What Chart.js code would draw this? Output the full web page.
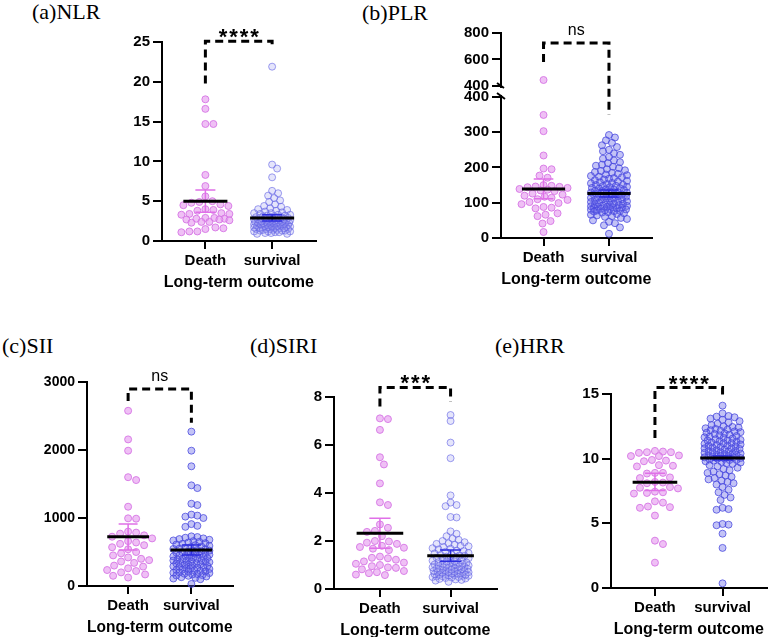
<!DOCTYPE html>
<html>
<head>
<meta charset="utf-8">
<script src="https://cdn.jsdelivr.net/npm/chart.js@4.4.1/dist/chart.umd.min.js"></script>
<style>
  body { margin: 0; background: #fff; width: 772px; height: 637px; position: relative; overflow: hidden; }
  .panel-title { position: absolute; font-family: "Liberation Serif", "Times New Roman", serif; font-size: 22px; line-height: 22px; color: #000; white-space: nowrap; }
  canvas { position: absolute; }
</style>
</head>
<body>
<div class="panel-title" style="left:32px;top:1px">(a)NLR</div>
<div class="panel-title" style="left:362px;top:2px">(b)PLR</div>
<div class="panel-title" style="left:2px;top:335px">(c)SII</div>
<div class="panel-title" style="left:250px;top:335px">(d)SIRI</div>
<div class="panel-title" style="left:495px;top:335px">(e)HRR</div>
<canvas id="chartA"></canvas>
<canvas id="chartB"></canvas>
<canvas id="chartC"></canvas>
<canvas id="chartD"></canvas>
<canvas id="chartE"></canvas>
<script>
// ---- data ----
const CATEGORIES = ['Death', 'survival'];
const X_TITLE = 'Long-term outcome';

const NLR_TICKS = [0, 5, 10, 15, 20, 25];
const NLR_DEATH = [17.8, 16.6, 14.7, 14.7, 8.3, 6.9, 5.6, 5.0, 4.9, 4.8, 4.6, 4.5, 4.4, 4.0, 3.9, 3.8, 3.5, 3.4,
  3.4, 3.3, 2.9, 2.9, 2.8, 2.8, 2.7, 2.7, 2.6, 2.4, 2.4, 2.3, 1.7, 1.6, 1.5, 1.2, 1.2, 1.1];
const NLR_SURV = [21.9, 9.6, 9.1, 8.0, 6.3, 6.0, 5.7, 5.4, 5.1, 4.9, 4.6, 4.4, 4.3, 4.1, 4.0, 3.9, 3.8, 3.7, 3.6,
  3.5, 3.5, 3.4, 3.3, 3.3, 3.2, 3.2, 3.1, 3.1, 3.0, 3.0, 3.0, 2.9, 2.9, 2.9, 2.8, 2.8, 2.8, 2.7, 2.7, 2.7, 2.6,
  2.6, 2.6, 2.5, 2.5, 2.5, 2.5, 2.4, 2.4, 2.4, 2.3, 2.3, 2.3, 2.3, 2.2, 2.2, 2.2, 2.1, 2.1, 2.1, 2.1, 2.0, 2.0,
  2.0, 2.0, 1.9, 1.9, 1.9, 1.9, 1.8, 1.8, 1.8, 1.8, 1.7, 1.7, 1.7, 1.7, 1.6, 1.6, 1.6, 1.6, 1.5, 1.5, 1.5, 1.5,
  1.4, 1.4, 1.4, 1.3, 1.3, 1.3, 1.2, 1.2, 1.2, 1.1, 1.1, 1.0, 1.0, 0.9, 0.9];
const NLR_MEAN = [5.0, 2.9];
const NLR_ERR = [[3.6, 6.4], [2.5, 3.3]];

const PLR_TICKS = [0, 100, 200, 300, 400, 400.001, 600, 800];
const PLR_DEATH = [445, 349, 303, 234, 197, 195, 177, 171, 150, 148, 146, 145, 144, 142, 139, 137, 135, 133, 126,
  123, 120, 117, 114, 110, 108, 102, 99, 96, 88, 86, 84, 70, 66, 62, 48, 41, 17];
const PLR_SURV = [292, 285, 277, 270, 263, 258, 250, 246, 240, 236, 230, 225, 220, 215, 212, 208, 205, 202, 198,
  195, 192, 190, 187, 185, 182, 180, 178, 176, 174, 172, 170, 168, 166, 164, 162, 160, 158, 156, 155, 153, 151,
  150, 148, 147, 145, 144, 142, 141, 140, 138, 137, 136, 134, 133, 132, 130, 129, 128, 127, 125, 124, 123, 122,
  120, 119, 118, 117, 115, 114, 113, 112, 110, 109, 108, 106, 105, 104, 102, 101, 100, 98, 97, 96, 95, 93, 92,
  91, 90, 89, 88, 87, 86, 85, 84, 83, 82, 81, 80, 79, 78, 77, 76, 75, 73, 72, 70, 68, 66, 64, 62, 60, 57, 54,
  50, 46, 42, 36, 30, 12];
const PLR_MEAN = [139, 126];
const PLR_ERR = [[111, 167], [116, 136]];

const SII_TICKS = [0, 1000, 2000, 3000];
const SII_DEATH = [2577, 2156, 1990, 1600, 1558, 1166, 995, 990, 800, 785, 770, 745, 725, 700, 660, 640, 620, 600,
  570, 540, 500, 480, 450, 420, 400, 380, 360, 340, 300, 285, 260, 235, 220, 200, 170, 150, 125];
const SII_SURV = [2270, 1990, 1760, 1480, 1440, 1210, 1190, 1050, 1035, 1020, 1000, 910, 885, 870, 730, 720, 710,
  700, 690, 680, 670, 660, 650, 640, 630, 620, 610, 600, 590, 580, 570, 560, 550, 545, 540, 530, 520, 515, 510,
  500, 495, 490, 480, 475, 470, 460, 455, 450, 440, 435, 430, 420, 415, 410, 400, 395, 390, 380, 375, 370, 360,
  355, 350, 340, 335, 330, 320, 315, 310, 300, 295, 290, 280, 275, 270, 260, 255, 250, 240, 235, 230, 220, 215,
  210, 200, 195, 190, 180, 175, 170, 160, 155, 150, 140, 130, 120, 110, 100, 30];
const SII_MEAN = [725, 529];
const SII_ERR = [[529, 911], [455, 603]];

const SIRI_TICKS = [0, 2, 4, 6, 8];
const SIRI_DEATH = [7.11, 7.08, 6.63, 5.49, 5.19, 4.40, 3.61, 3.50, 2.69, 2.55, 2.42, 2.38, 2.20, 2.00, 1.98, 1.93,
  1.88, 1.80, 1.75, 1.72, 1.68, 1.62, 1.35, 1.30, 1.28, 1.22, 1.15, 1.10, 1.05, 1.00, 0.95, 0.90, 0.88, 0.82,
  0.75, 0.70, 0.66, 0.60, 0.58];
const SIRI_SURV = [7.25, 7.0, 6.1, 5.45, 3.9, 3.6, 3.5, 3.45, 3.0, 2.98, 2.4, 2.3, 2.2, 2.1, 2.05, 2.0, 1.95, 1.9,
  1.88, 1.85, 1.8, 1.78, 1.75, 1.7, 1.68, 1.65, 1.6, 1.58, 1.55, 1.5, 1.48, 1.45, 1.42, 1.4, 1.38, 1.35, 1.32,
  1.3, 1.28, 1.25, 1.22, 1.2, 1.18, 1.15, 1.12, 1.1, 1.08, 1.05, 1.02, 1.0, 0.98, 0.96, 0.94, 0.92, 0.9, 0.88,
  0.86, 0.84, 0.82, 0.8, 0.78, 0.76, 0.74, 0.72, 0.7, 0.68, 0.66, 0.64, 0.62, 0.6, 0.58, 0.56, 0.55, 0.53, 0.52,
  0.5, 0.48, 0.46, 0.44, 0.42, 0.4, 0.38, 0.35, 0.3, 0.5, 0.55, 0.6, 0.62, 0.65, 0.7, 0.72, 0.75, 0.8, 0.85,
  0.9, 0.95, 1.0, 1.05, 1.1, 1.15];
const SIRI_MEAN = [2.32, 1.39];
const SIRI_ERR = [[1.70, 2.95], [1.16, 1.62]];

const HRR_TICKS = [0, 5, 10, 15];
const HRR_DEATH = [10.6, 10.55, 10.5, 10.5, 10.45, 10.25, 10.2, 10.2, 9.9, 9.85, 9.8, 9.5, 9.45, 9.4, 8.9, 8.9,
  8.85, 8.55, 8.5, 8.2, 8.15, 8.1, 7.8, 7.75, 7.7, 7.45, 7.4, 7.35, 7.3, 6.7, 6.6, 6.3, 6.25, 6.2, 5.6, 3.66,
  3.4, 1.96];
const HRR_SURV = [14.1, 13.5, 13.3, 13.25, 13.2, 13.1, 13.0, 12.9, 12.8, 12.7, 12.6, 12.5, 12.45, 12.4, 12.35,
  12.3, 12.25, 12.2, 12.15, 12.1, 12.05, 12.0, 11.95, 11.9, 11.85, 11.8, 11.75, 11.7, 11.65, 11.6, 11.55, 11.5,
  11.45, 11.4, 11.35, 11.3, 11.25, 11.2, 11.15, 11.1, 11.05, 11.0, 10.95, 10.9, 10.85, 10.8, 10.75, 10.7, 10.65,
  10.6, 10.55, 10.5, 10.45, 10.4, 10.35, 10.3, 10.25, 10.2, 10.15, 10.1, 10.05, 10.0, 9.95, 9.9, 9.85, 9.8,
  9.75, 9.7, 9.65, 9.6, 9.5, 9.4, 9.3, 9.2, 9.1, 9.0, 8.9, 8.8, 8.7, 8.6, 8.5, 8.4, 8.3, 8.2, 8.1, 8.0, 7.8,
  7.6, 7.4, 7.2, 7.0, 6.8, 6.2, 6.1, 6.05, 4.95, 4.9, 4.85, 4.2, 3.1, 0.36, 10.1, 10.2, 10.3, 10.4, 10.6, 10.8,
  11.0, 11.2, 10.0, 9.9, 10.5, 11.4];
const HRR_MEAN = [8.17, 10.05];
const HRR_ERR = [[7.53, 8.87], [9.9, 10.2]];

// ---- look ----
const FONT = '"Liberation Sans", Arial, sans-serif';
const PAD_TOP = 32, AXIS_W = 62, PAD_RIGHT = 4, AXIS_H = 51;
const MEAN_HALF = 0.33, CAP_HALF = 0.15;
const DEATH_STYLE = { fill: 'rgba(228,150,238,0.6)', line: 'rgba(214,118,228,0.9)' };
const SURV_STYLE = { fill: 'rgba(96,96,232,0.38)', line: 'rgba(70,70,222,0.75)' };
const SURV_LIGHT = { fill: 'rgba(150,150,240,0.25)', line: 'rgba(96,96,228,0.6)' };
const ERR_COLORS = ['#E070E8', '#2E2EE0'];
// swarm spacing per group: [min distance, max half width] in px
const SWARM = [[8, 24], [6, 18]];

// broken y axis for the PLR panel: 0-400 below the break, 400-800 above it
const BREAK_AT = 400, BREAK_SHARE = 0.688, BREAK_GAP = 11;
class BrokenScale extends Chart.LinearScale {
  getPixelForValue(v) {
    const lowTop = this.bottom - (this.bottom - this.top) * BREAK_SHARE;
    if (v <= BREAK_AT) {
      return this.bottom - (v - this.min) / (BREAK_AT - this.min) * (this.bottom - lowTop);
    }
    const upBottom = lowTop - BREAK_GAP;
    return upBottom - (v - BREAK_AT) / (this.max - BREAK_AT) * (upBottom - this.top);
  }
}
BrokenScale.id = 'broken';
BrokenScale.defaults = Chart.LinearScale.defaults;
Chart.register(BrokenScale);

const panels = [
  { id: 'chartA', area: [162, 42, 316, 241], min: 0, max: 25, ticks: NLR_TICKS, groups: [NLR_DEATH, NLR_SURV],
    mean: NLR_MEAN, err: NLR_ERR, light: true, tickSize: 15,
    bracket: { top: 25.1, left: 19.8, right: 24.4, label: '****' } },
  { id: 'chartB', area: [501, 33, 652, 238], min: 0, max: 800, ticks: PLR_TICKS, groups: [PLR_DEATH, PLR_SURV],
    mean: PLR_MEAN, err: PLR_ERR, broken: true, tickSize: 15,
    bracket: { top: 724, left: 581, right: 349, label: 'ns' } },
  { id: 'chartC', area: [87, 382, 233, 586], min: 0, max: 3000, ticks: SII_TICKS, groups: [SII_DEATH, SII_SURV],
    mean: SII_MEAN, err: SII_ERR, tickSize: 14,
    bracket: { top: 2896, left: 2720, right: 2400, label: 'ns' } },
  { id: 'chartD', area: [334, 397, 497, 589], min: 0, max: 8, ticks: SIRI_TICKS, groups: [SIRI_DEATH, SIRI_SURV],
    mean: SIRI_MEAN, err: SIRI_ERR, light: true, tickSize: 15,
    bracket: { top: 8.4, left: 7.6, right: 7.8, label: '***' } },
  { id: 'chartE', area: [611, 394, 767, 588], min: 0, max: 15, ticks: HRR_TICKS, groups: [HRR_DEATH, HRR_SURV],
    mean: HRR_MEAN, err: HRR_ERR, tickSize: 15,
    bracket: { top: 15.5, left: 11.6, right: 14.9, label: '****' } }
];

// spread points sideways so they don't sit on top of each other (pixel space)
function swarmOffsets(py, minDist, maxHalf) {
  const order = py.map((_, i) => i).sort((a, b) => py[a] - py[b]);
  const placed = [];
  const out = new Array(py.length).fill(0);
  order.forEach(i => {
    let best = 0, bestD = -1;
    for (let k = 0; k <= 2 * maxHalf; k++) {
      const off = k === 0 ? 0 : (k % 2 ? 1 : -1) * Math.ceil(k / 2);
      let d = Infinity;
      for (const q of placed) {
        const dy = q.y - py[i];
        if (Math.abs(dy) >= minDist) continue;
        d = Math.min(d, Math.hypot(q.x - off, dy));
      }
      if (d >= minDist) { best = off; bestD = d; break; }
      if (d > bestD) { bestD = d; best = off; }
    }
    out[i] = best;
    placed.push({ x: best, y: py[i] });
  });
  return out;
}

function decor(p) {
  return {
    id: 'decor',
    afterDatasetsDraw(chart) {
      const ctx = chart.ctx, xs = chart.scales.x, ys = chart.scales.y;
      ctx.save();
      p.mean.forEach((m, gi) => {
        const cx = xs.getPixelForValue(gi + 1);
        const half = xs.getPixelForValue(gi + 1 + MEAN_HALF) - cx;
        const cap = xs.getPixelForValue(gi + 1 + CAP_HALF) - cx;
        const lo = ys.getPixelForValue(p.err[gi][0]);
        const hi = ys.getPixelForValue(p.err[gi][1]);
        ctx.strokeStyle = ERR_COLORS[gi];
        ctx.lineWidth = 1.5;
        ctx.beginPath();
        ctx.moveTo(cx, lo); ctx.lineTo(cx, hi);
        ctx.moveTo(cx - cap, lo); ctx.lineTo(cx + cap, lo);
        ctx.moveTo(cx - cap, hi); ctx.lineTo(cx + cap, hi);
        ctx.stroke();
        const my = ys.getPixelForValue(m);
        ctx.strokeStyle = '#000';
        ctx.lineWidth = 3;
        ctx.beginPath();
        ctx.moveTo(cx - half, my); ctx.lineTo(cx + half, my);
        ctx.stroke();
      });
      ctx.restore();
    },
    afterDraw(chart) {
      const ctx = chart.ctx, xs = chart.scales.x, ys = chart.scales.y;
      const br = p.bracket;
      const x1 = xs.getPixelForValue(1), x2 = xs.getPixelForValue(2);
      const yt = ys.getPixelForValue(br.top);
      ctx.save();
      // significance bracket
      ctx.strokeStyle = '#000';
      ctx.lineWidth = 3;
      ctx.setLineDash([8, 5]);
      ctx.beginPath();
      ctx.moveTo(x1, ys.getPixelForValue(br.left));
      ctx.lineTo(x1, yt);
      ctx.lineTo(x2, yt);
      ctx.lineTo(x2, ys.getPixelForValue(br.right));
      ctx.stroke();
      ctx.setLineDash([]);
      // label above it
      ctx.fillStyle = '#000';
      ctx.textAlign = 'center';
      ctx.textBaseline = 'alphabetic';
      const mid = (x1 + x2) / 2;
      if (br.label === 'ns') {
        ctx.font = '16px ' + FONT;
        ctx.fillText('ns', mid, yt - 8);
      } else {
        ctx.font = 'bold 22px ' + FONT;
        const pitch = 10.5, n = br.label.length;
        for (let i = 0; i < n; i++) {
          ctx.fillText('*', mid + (i - (n - 1) / 2) * pitch, yt + 3);
        }
      }
      // axis break marks
      if (p.broken) {
        const ax = chart.chartArea.left;
        const up = ys.getPixelForValue(BREAK_AT + 0.001), low = ys.getPixelForValue(BREAK_AT);
        ctx.fillStyle = '#fff';
        ctx.fillRect(ax - 3, up + 2, 6, low - up - 4);
        ctx.strokeStyle = '#000';
        ctx.lineWidth = 2;
        ctx.beginPath();
        ctx.moveTo(ax - 4, up - 3); ctx.lineTo(ax + 3, up + 2);
        ctx.moveTo(ax - 4, low - 4); ctx.lineTo(ax + 4, low + 2);
        ctx.stroke();
      }
      ctx.restore();
    }
  };
}

function axisFont(size) {
  return { family: FONT, size: size, weight: 'bold' };
}

function makeChart(p) {
  const [l, t, r, b] = p.area;
  const cv = document.getElementById(p.id);
  cv.width = AXIS_W + (r - l) + PAD_RIGHT;
  cv.height = PAD_TOP + (b - t) + AXIS_H;
  cv.style.left = (l - AXIS_W) + 'px';
  cv.style.top = (t - PAD_TOP) + 'px';

  const styles = [DEATH_STYLE, p.light ? SURV_LIGHT : SURV_STYLE];
  const chart = new Chart(cv, {
    type: 'scatter',
    data: {
      datasets: p.groups.map((vals, gi) => ({
        label: CATEGORIES[gi],
        data: vals.map(v => ({ x: gi + 1, y: v })),
        pointRadius: 3.5,
        pointHoverRadius: 3.5,
        backgroundColor: styles[gi].fill,
        borderColor: styles[gi].line,
        borderWidth: 1,
        clip: false
      }))
    },
    options: {
      responsive: false,
      animation: false,
      events: [],
      layout: { padding: { top: PAD_TOP, right: PAD_RIGHT, left: 0, bottom: 0 } },
      plugins: { legend: { display: false }, tooltip: { enabled: false } },
      scales: {
        x: {
          type: 'linear', min: 0.35, max: 2.65,
          afterBuildTicks: s => { s.ticks = [{ value: 1 }, { value: 2 }]; },
          afterFit: s => { s.height = AXIS_H; },
          ticks: { callback: v => CATEGORIES[Math.round(v) - 1], color: '#000', font: axisFont(15),
                   padding: 3, maxRotation: 0, autoSkip: false },
          grid: { display: true, drawOnChartArea: false, drawTicks: true, tickLength: 8, color: '#000', lineWidth: 2 },
          border: { display: true, color: '#000', width: 2 },
          title: { display: true, text: X_TITLE, color: '#000', font: axisFont(16), padding: { top: 4, bottom: 0 } }
        },
        y: {
          type: p.broken ? 'broken' : 'linear', min: p.min, max: p.max,
          afterBuildTicks: s => { s.ticks = p.ticks.map(v => ({ value: v })); },
          afterFit: s => { s.width = AXIS_W; },
          ticks: { callback: v => String(Math.round(v)), color: '#000', font: axisFont(p.tickSize),
                   padding: 3, autoSkip: false },
          grid: { display: true, drawOnChartArea: false, drawTicks: true, tickLength: 9, color: '#000', lineWidth: 2 },
          border: { display: true, color: '#000', width: 2 }
        }
      }
    },
    plugins: [decor(p)]
  });

  // beeswarm layout from the real scales, then redraw
  const xs = chart.scales.x, ys = chart.scales.y;
  const pxPerUnit = xs.getPixelForValue(2) - xs.getPixelForValue(1);
  chart.data.datasets.forEach((ds, gi) => {
    const vals = p.groups[gi];
    const offs = swarmOffsets(vals.map(v => ys.getPixelForValue(v)), SWARM[gi][0], SWARM[gi][1]);
    ds.data = vals.map((v, i) => ({ x: gi + 1 + offs[i] / pxPerUnit, y: v }));
  });
  chart.update('none');
  return chart;
}

panels.forEach(makeChart);
</script>
</body>
</html>
